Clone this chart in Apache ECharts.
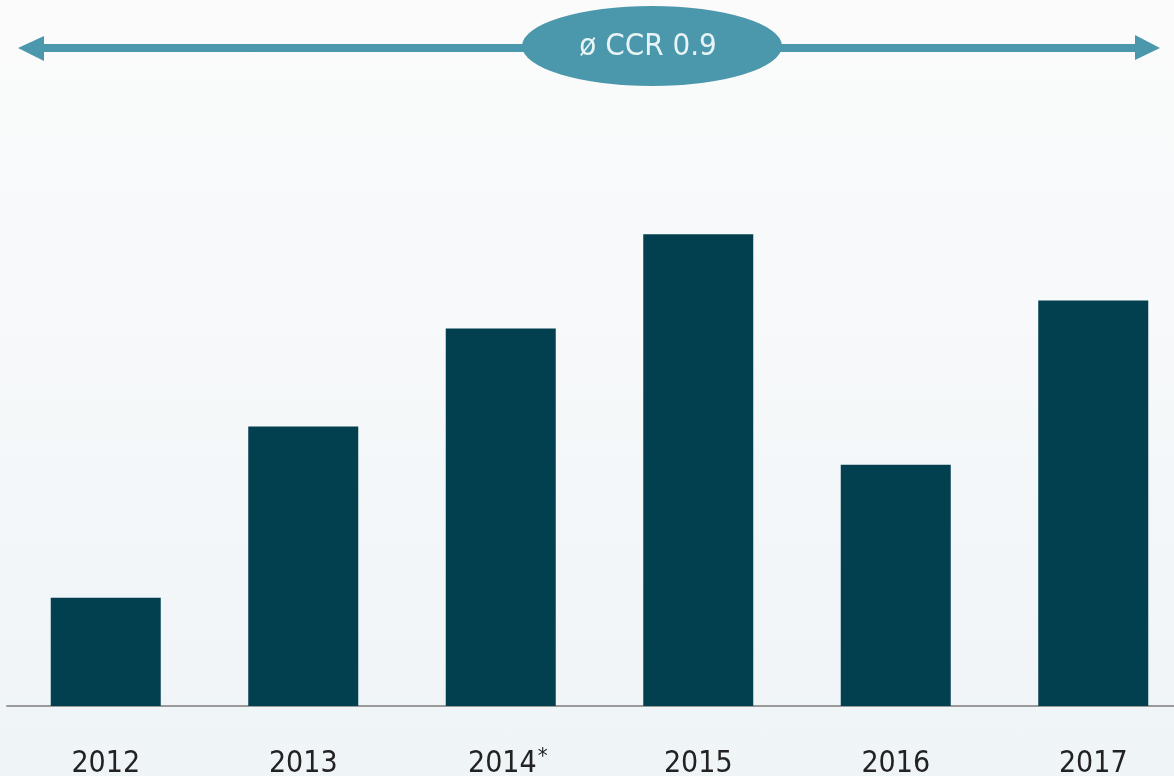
<!DOCTYPE html>
<html>
<head>
<meta charset="utf-8">
<script src="https://cdn.jsdelivr.net/npm/echarts@6/dist/echarts.min.js"></script>
<style>
  html, body { margin: 0; padding: 0; }
  #chart {
    width: 1174px; height: 776px;
    background: linear-gradient(to bottom, #fbfbfb 0%, #f7f9fa 40%, #eff4f7 100%);
  }
</style>
</head>
<body>
<div id="chart"></div>
<script>
// Cash conversion rate per year
const years = ['2012', '2013', '2014*', '2015', '2016', '2017'];
const ccr = [0.31, 0.80, 1.08, 1.35, 0.69, 1.16];
const averageLabel = 'ø CCR 0.9';

const FONT = "'Liberation Sans Narrow', 'DejaVu Sans Condensed', 'Roboto Condensed', Roboto, sans-serif";
const ARROW = '#4b97ab';

const chart = echarts.init(document.getElementById('chart'), null, { renderer: 'canvas' });

chart.setOption({
  animation: false,
  // the plot runs a little past the right edge of the canvas
  grid: { left: 7, top: 7, width: 1185, height: 699, containLabel: false, outerBoundsMode: 'none' },
  xAxis: {
    type: 'category',
    data: years,
    axisLine: { lineStyle: { color: '#9a9a9a', width: 2 } },
    axisTick: { show: false },
    axisLabel: {
      margin: 40,
      interval: 0,
      color: '#222',
      fontFamily: FONT,
      fontSize: 30,
      lineHeight: 36,
      // footnote marker hangs to the right so the year stays centred
      formatter: v => v.endsWith('*') ? '{yp|' + v.slice(0, -1) + '}{s|*}' : '{y|' + v + '}',
      rich: {
        y: { fontFamily: FONT, fontSize: 30, lineHeight: 36, color: '#222' },
        yp: { fontFamily: FONT, fontSize: 30, lineHeight: 36, color: '#222', padding: [0, 0, 0, 14] },
        s: { fontFamily: FONT, fontSize: 22, lineHeight: 4, color: '#222', verticalAlign: 'top', padding: [0, 0, 0, 1] }
      }
    }
  },
  yAxis: {
    type: 'value',
    min: 0,
    max: 2,
    show: false,
    splitLine: { show: false }
  },
  series: [{
    type: 'bar',
    data: ccr,
    barWidth: 110,
    itemStyle: { color: '#02404f' }
  }],
  graphic: [
    // double-headed arrow spanning the period
    { type: 'rect', shape: { x: 40, y: 44, width: 1100, height: 8 }, style: { fill: ARROW } },
    { type: 'polygon', shape: { points: [[18, 48], [44, 36], [44, 61]] }, style: { fill: ARROW } },
    { type: 'polygon', shape: { points: [[1160, 48], [1135, 35], [1135, 60]] }, style: { fill: ARROW } },
    // oval badge with the average
    { type: 'circle', x: 652, y: 46, scaleY: 40 / 130, shape: { cx: 0, cy: 0, r: 130 }, style: { fill: ARROW } },
    {
      type: 'text', x: 648, y: 47,
      style: {
        text: averageLabel, fill: '#e8f4f6', fontFamily: FONT, fontSize: 31,
        align: 'center', verticalAlign: 'middle'
      }
    }
  ]
});
</script>
</body>
</html>
